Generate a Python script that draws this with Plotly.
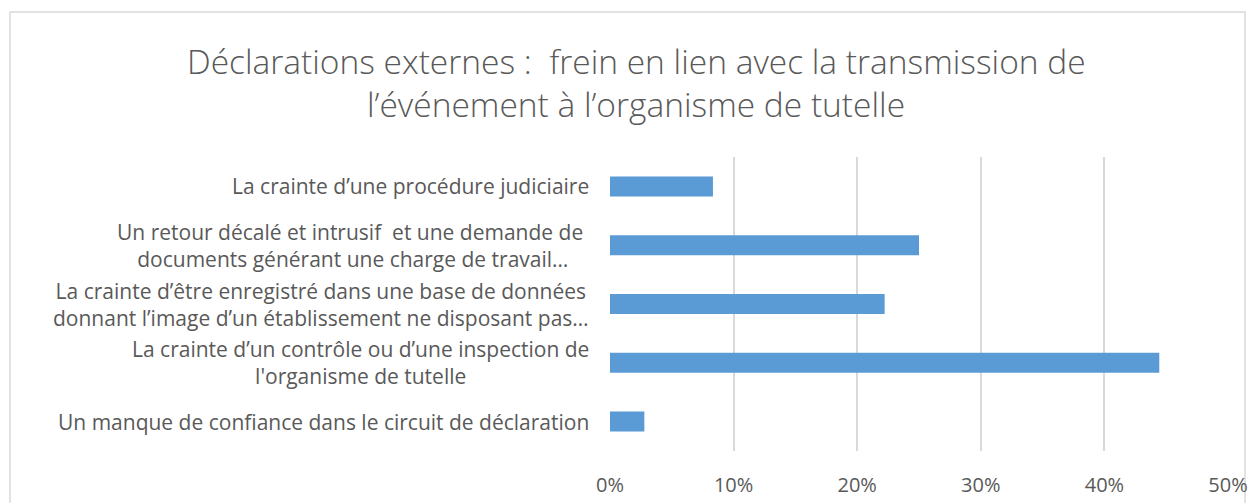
import plotly.graph_objects as go

categories = [
    "Un manque de confiance dans le circuit de déclaration",
    "La crainte d’un contrôle ou d’une inspection de<br>l'organisme de tutelle",
    "La crainte d’être enregistré dans une base de données<br>donnant l’image d’un établissement ne disposant pas…",
    "Un retour décalé et intrusif  et une demande de <br>documents générant une charge de travail…",
    "La crainte d’une procédure judiciaire",
]
values = [2.78, 44.44, 22.22, 25.0, 8.33]
x_ticks = [0, 10, 20, 30, 40, 50]
x_ticklabels = ["0%", "10%", "20%", "30%", "40%", "50%"]
title_lines = [
    "Déclarations externes :  frein en lien avec la transmission de",
    "l’événement à l’organisme de tutelle",
]

W, H = 1250, 503
L, R, T, B = 610, 22, 157, 52
PW, PH = W - L - R, H - T - B

FONT = "Open Sans"
GREY = "#595959"


def px_to_paper_x(px):
    return (px - L) / PW


def px_to_paper_y(py):
    return (H - B - py) / PH


fig = go.Figure(go.Bar(
    x=values, y=categories, orientation="h",
    marker=dict(color="#5b9bd5", line=dict(width=0)),
    hoverinfo="x+y",
))

annotations = []
for c in categories:
    annotations.append(dict(
        x=0, y=c, xref="x", yref="y", text=c, showarrow=False,
        xanchor="right", yanchor="middle", align="center", xshift=-19,
        font=dict(family=FONT, size=21, color=GREY),
    ))
for i, t in enumerate(title_lines):
    annotations.append(dict(
        x=px_to_paper_x(636), y=px_to_paper_y(61 + 43 * i),
        xref="paper", yref="paper",
        text=t, showarrow=False, xanchor="center", yanchor="middle",
        font=dict(family=FONT, size=33.5, color=GREY, weight=300),
    ))

fig.update_layout(
    width=W, height=H, autosize=False,
    margin=dict(l=L, r=R, t=T, b=B, autoexpand=False),
    paper_bgcolor="white", plot_bgcolor="white",
    showlegend=False,
    bargap=0.66,
    xaxis=dict(
        range=[0, 50], tickvals=x_ticks, ticktext=x_ticklabels,
        showgrid=True, gridcolor="#d9d9d9", gridwidth=1.5,
        zeroline=False, showline=False, automargin=False,
        tickfont=dict(family=FONT, size=20, color=GREY),
        ticks="", ticklen=0, ticklabelstandoff=20,
    ),
    yaxis=dict(
        showticklabels=False, showgrid=False, zeroline=False, showline=False,
        automargin=False,
        categoryorder="array", categoryarray=categories,
    ),
    annotations=annotations,
    shapes=[dict(
        type="rect", xref="paper", yref="paper",
        x0=px_to_paper_x(10), x1=px_to_paper_x(1245),
        y0=px_to_paper_y(520), y1=px_to_paper_y(12),
        line=dict(color="#d9d9d9", width=1.5), fillcolor="rgba(0,0,0,0)",
        layer="below",
    )],
)

fig.write_html(
    "out.html",
    config={"displayModeBar": False, "responsive": False},
    post_script="document.body.style.margin='0';document.body.style.overflow='hidden';",
)
